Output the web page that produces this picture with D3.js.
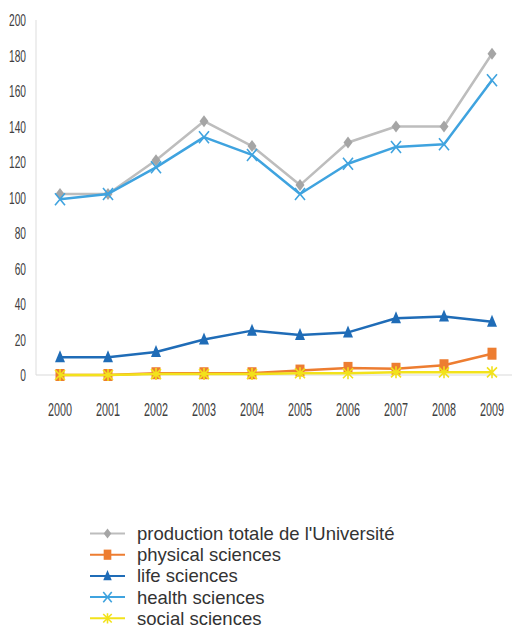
<!DOCTYPE html>
<html><head><meta charset="utf-8">
<script src="https://cdn.jsdelivr.net/npm/d3@7"></script>
<style>body{margin:0;background:#fff;} svg{display:block;}</style>
</head><body>
<svg id="c" width="512" height="629"></svg>
<script>
const years = ["2000","2001","2002","2003","2004","2005","2006","2007","2008","2009"];
const totale   = [102, 102, 121, 143, 129, 107, 131, 140, 140, 181];
const physical = [0, 0, 1, 1, 1, 2.5, 4, 3.5, 5.5, 12];
const life     = [10, 10, 13, 20, 25, 22.5, 24, 32, 33, 30];
const health   = [99, 102, 117, 134, 124, 102, 119, 128.5, 130, 166];
const social   = [0, 0, 0.5, 0.5, 0.5, 1, 1, 1.5, 1.5, 1.5];
const yTicks = [0,20,40,60,80,100,120,140,160,180,200];

const series = [
  {name:"production totale de l'Université", values: totale, line:"#BDBDBD", fill:"#A5A5A5", marker:"diamond"},
  {name:"physical sciences", values: physical, line:"#ED7D31", fill:"#ED7D31", marker:"square"},
  {name:"life sciences", values: life, line:"#1F6CB7", fill:"#1F6CB7", marker:"triangle"},
  {name:"health sciences", values: health, line:"#3FA3DF", fill:"#3FA3DF", marker:"x"},
  {name:"social sciences", values: social, line:"#F2E21B", fill:"#F2E21B", marker:"star"}
];
const drawOrder = [0,3,2,1,4];

const svg = d3.select("#c");
const x = d3.scaleBand().domain(years).range([36,516]);
const y = d3.scaleLinear().domain([0,200]).range([375,20]);

svg.append("line").attr("x1",36).attr("x2",36).attr("y1",y(200)).attr("y2",y(0)).attr("stroke","#E3E3E3").attr("stroke-width",1.2);
svg.append("line").attr("x1",36).attr("x2",512).attr("y1",y(0)).attr("y2",y(0)).attr("stroke","#D9D9D9").attr("stroke-width",1.2);

const yAx = svg.append("g").attr("transform","translate(36,0)")
  .call(d3.axisLeft(y).tickValues(yTicks).tickSize(0));
yAx.select(".domain").remove();
yAx.selectAll("text").attr("x",0).attr("dy","0.35em").attr("text-anchor","end")
  .attr("font-family","Liberation Sans, Arial, sans-serif").attr("font-size",17).attr("fill","#404040")
  .attr("transform","translate(-10,0) scale(0.6,1)");

const xAx = svg.append("g").attr("transform",`translate(0,${y(0)})`)
  .call(d3.axisBottom(x).tickSize(0));
xAx.select(".domain").remove();
xAx.selectAll("text").attr("y",0).attr("dy",0).attr("text-anchor","middle")
  .attr("font-family","Liberation Sans, Arial, sans-serif").attr("font-size",18).attr("fill","#404040")
  .attr("transform","translate(0,41) scale(0.6,1)");

function drawMarker(g, type, color, cx, cy, s) {
  s = s || 1;
  if (type==="diamond") {
    g.append("path").attr("d",`M${cx},${cy-6*s}L${cx+4.5*s},${cy}L${cx},${cy+6*s}L${cx-4.5*s},${cy}Z`).attr("fill",color);
  } else if (type==="square") {
    g.append("rect").attr("x",cx-4.5*s).attr("y",cy-6*s).attr("width",9*s).attr("height",12*s).attr("fill",color);
  } else if (type==="triangle") {
    g.append("path").attr("d",`M${cx},${cy-7*s}L${cx+5*s},${cy+5*s}L${cx-5*s},${cy+5*s}Z`).attr("fill",color);
  } else if (type==="x") {
    g.append("path").attr("d",`M${cx-5*s},${cy-6*s}L${cx+5*s},${cy+6*s}M${cx+5*s},${cy-6*s}L${cx-5*s},${cy+6*s}`)
      .attr("stroke",color).attr("stroke-width",1.6).attr("fill","none");
  } else if (type==="star") {
    g.append("path").attr("d",`M${cx-5*s},${cy-5*s}L${cx+5*s},${cy+5*s}M${cx+5*s},${cy-5*s}L${cx-5*s},${cy+5*s}M${cx},${cy-6*s}L${cx},${cy+6*s}`)
      .attr("stroke",color).attr("stroke-width",1.6).attr("fill","none");
  }
}

const line = d3.line().x((d,i)=>x(years[i])+x.bandwidth()/2).y(d=>y(d));
drawOrder.forEach(k=>{
  const s = series[k];
  const g = svg.append("g");
  g.append("path").datum(s.values).attr("d",line).attr("fill","none")
    .attr("stroke",s.line).attr("stroke-width",2.5).attr("stroke-linejoin","round");
  s.values.forEach((v,i)=>drawMarker(g, s.marker, s.fill, x(years[i])+x.bandwidth()/2, y(v)));
});

const lg = svg.append("g");
series.forEach((s,i)=>{
  const ly = 533.5 + i*21.2;
  lg.append("line").attr("x1",90).attr("x2",125).attr("y1",ly).attr("y2",ly).attr("stroke",s.line).attr("stroke-width",2);
  drawMarker(lg, s.marker, s.fill, 107.5, ly, 0.85);
  lg.append("text").attr("x",137).attr("y",ly).attr("dy","0.35em")
    .attr("font-family","Liberation Sans, Arial, sans-serif").attr("font-size",18.5).attr("fill","#333")
    .text(s.name);
});
</script>
</body></html>
